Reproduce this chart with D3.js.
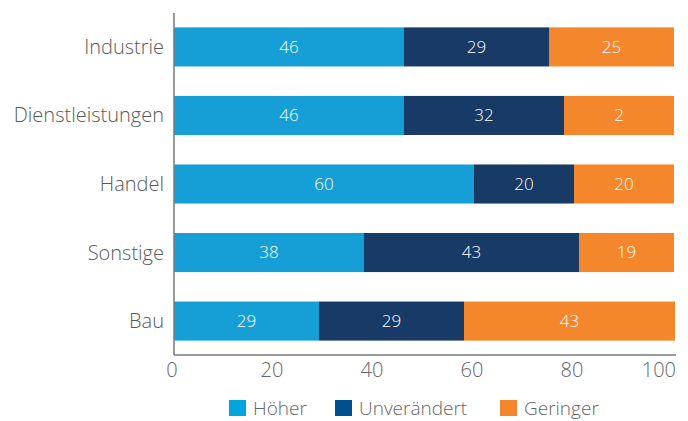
<!DOCTYPE html>
<html>
<head>
<meta charset="utf-8">
<script src="https://cdn.jsdelivr.net/npm/d3@7"></script>
<style>
  body { margin: 0; background: #fff; }
  svg text { font-family: "Open Sans", "Noto Sans", sans-serif; font-weight: 300; }
</style>
</head>
<body>
<svg id="chart" width="688" height="421"></svg>
<script>
var width = 688;
var height = 421;

// categories, top to bottom
var categories = ["Industrie", "Dienstleistungen", "Handel", "Sonstige", "Bau"];
var seriesNames = ["Höher", "Unverändert", "Geringer"];
var hoeher = [46, 46, 60, 38, 29];
var unveraendert = [29, 32, 20, 43, 29];
var geringer = [25, 22, 20, 19, 43];
// labels as printed in the source (the 22 is shown cut off as "2")
var geringerText = ["25", "2", "20", "19", "43"];
var xTicks = [0, 20, 40, 60, 80, 100];

var barColors = ["#159fd6", "#173a66", "#f4872c"];
var legendColors = ["#00a6dc", "#004f8f", "#f4872c"];

var margin = {left: 174, right: 14, top: 13, bottom: 66};

var rows = categories.map((c, i) => ({
    name: c,
    values: [hoeher[i], unveraendert[i], geringer[i]],
    texts: [String(hoeher[i]), String(unveraendert[i]), geringerText[i]]
}));

var svg = d3.select("#chart");

var x = d3.scaleLinear()
    .domain([0, 100])
    .range([margin.left, width - margin.right]);

var y = d3.scaleBand()
    .domain(categories)
    .range([margin.top, height - margin.bottom])
    .paddingInner(0.43)
    .paddingOuter(0.21);

// bars
var rowG = svg.selectAll(".row").data(rows)
    .enter().append("g")
    .attr("class", "row")
    .attr("transform", d => `translate(0,${y(d.name)})`);

rowG.each(function(d) {
    var g = d3.select(this);
    var start = 0;
    d.values.forEach((v, k) => {
        var end = Math.min(start + v, 100.2);
        g.append("rect")
            .attr("x", x(start))
            .attr("width", x(end) - x(start))
            .attr("y", 0)
            .attr("height", y.bandwidth())
            .attr("fill", barColors[k]);
        g.append("text")
            .attr("x", (x(start) + x(end)) / 2)
            .attr("y", y.bandwidth() / 2)
            .attr("dy", "0.35em")
            .attr("text-anchor", "middle")
            .attr("fill", "#fff")
            .style("font-size", "17px")
            .text(d.texts[k]);
        start += v;
    });
});

// axes
var axisBottom = y.range()[1];
svg.append("line")
    .attr("x1", x(0)).attr("x2", x(100) + 2)
    .attr("y1", axisBottom).attr("y2", axisBottom)
    .attr("stroke", "#7a7a7a").attr("stroke-width", 1.5);
svg.append("line")
    .attr("x1", x(0)).attr("x2", x(0))
    .attr("y1", margin.top).attr("y2", axisBottom)
    .attr("stroke", "#7a7a7a").attr("stroke-width", 1.5);

svg.selectAll(".xtick").data(xTicks)
    .enter().append("text")
    .attr("class", "xtick")
    .attr("x", d => d === 100 ? x(d) + 2 : x(d) - 2)
    .attr("y", axisBottom + 22)
    .attr("text-anchor", d => d === 100 ? "end" : "middle")
    .attr("fill", "#666")
    .style("font-size", "20px")
    .text(d => d);

svg.selectAll(".ylab").data(categories)
    .enter().append("text")
    .attr("class", "ylab")
    .attr("x", x(0) - 10)
    .attr("y", d => y(d) + y.bandwidth() / 2)
    .attr("dy", "0.35em")
    .attr("text-anchor", "end")
    .attr("fill", "#595959")
    .style("font-size", "20px")
    .text(d => d);

// legend
var legendX = [229, 335, 500];
var leg = svg.selectAll(".leg").data(seriesNames)
    .enter().append("g")
    .attr("class", "leg")
    .attr("transform", (d, i) => `translate(${legendX[i]},400)`);
leg.append("rect")
    .attr("width", 17).attr("height", 16)
    .attr("fill", (d, i) => legendColors[i]);
leg.append("text")
    .attr("x", 24)
    .attr("y", 15)
    .attr("fill", "#666")
    .style("font-size", "19px")
    .text(d => d);
</script>
</body>
</html>
